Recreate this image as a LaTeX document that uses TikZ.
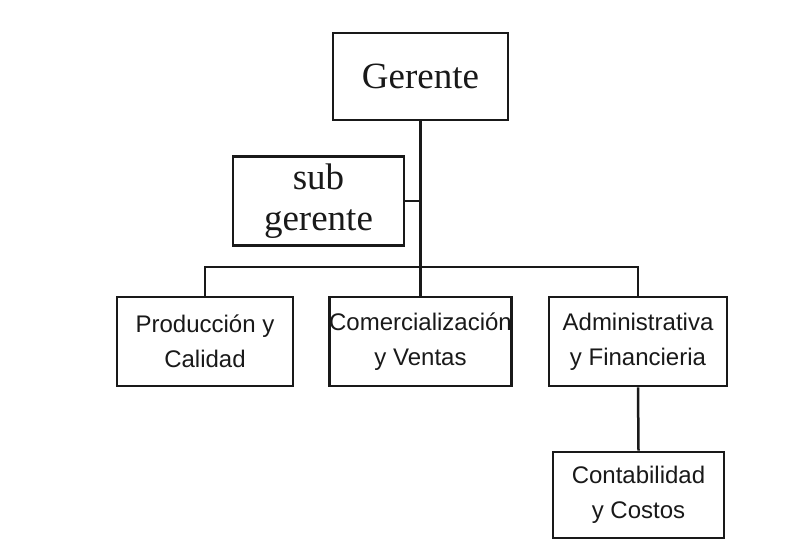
\documentclass[tikz,border=0pt]{standalone}
\usepackage{fontspec}
\setmainfont{Liberation Serif}
\setsansfont{Liberation Sans}
\begin{document}
\begin{tikzpicture}[x=1pt,y=-1pt,
  box/.style={draw=black!90, line width=2.8pt, rectangle, inner sep=0pt, align=center, fill=white, text=black!90},
  serifbox/.style={box, font=\fontsize{37}{41}\selectfont},
  sansbox/.style={box, font=\sffamily\fontsize{24}{35}\selectfont},
  conn/.style={draw=black!90, line width=2.5pt}]
\useasboundingbox[fill=white] (0,0) rectangle (789,540);
\node[serifbox, minimum width=175pt, minimum height=87pt] (g) at (420.5,76.5) {Gerente};
\node[serifbox, minimum width=171pt, minimum height=89pt] (s) at (318.5,201) {sub\\gerente};
\node[sansbox, minimum width=176pt, minimum height=89pt] (p) at (205,341.5) {Producción y\\Calidad};
\node[sansbox, minimum width=181pt, minimum height=89pt] (c) at (420.5,341.5) {Comercialización\\y Ventas};
\node[sansbox, minimum width=178pt, minimum height=89pt] (a) at (638,341.5) {Administrativa\\y Financieria};
\node[sansbox, minimum width=171pt, minimum height=86pt] (k) at (638.5,495) {Contabilidad\\y Costos};
\coordinate (bus) at (420.5,267);
\draw[conn] (g.south) -- (bus);
\draw[conn] (s.east) -- (s.east -| g.south);
\draw[conn] (p.north) |- (bus) -| (a.north);
\draw[conn] (bus) -- (c.north);
\draw[conn] (a.south) -- (k.north);
\end{tikzpicture}
\end{document}
